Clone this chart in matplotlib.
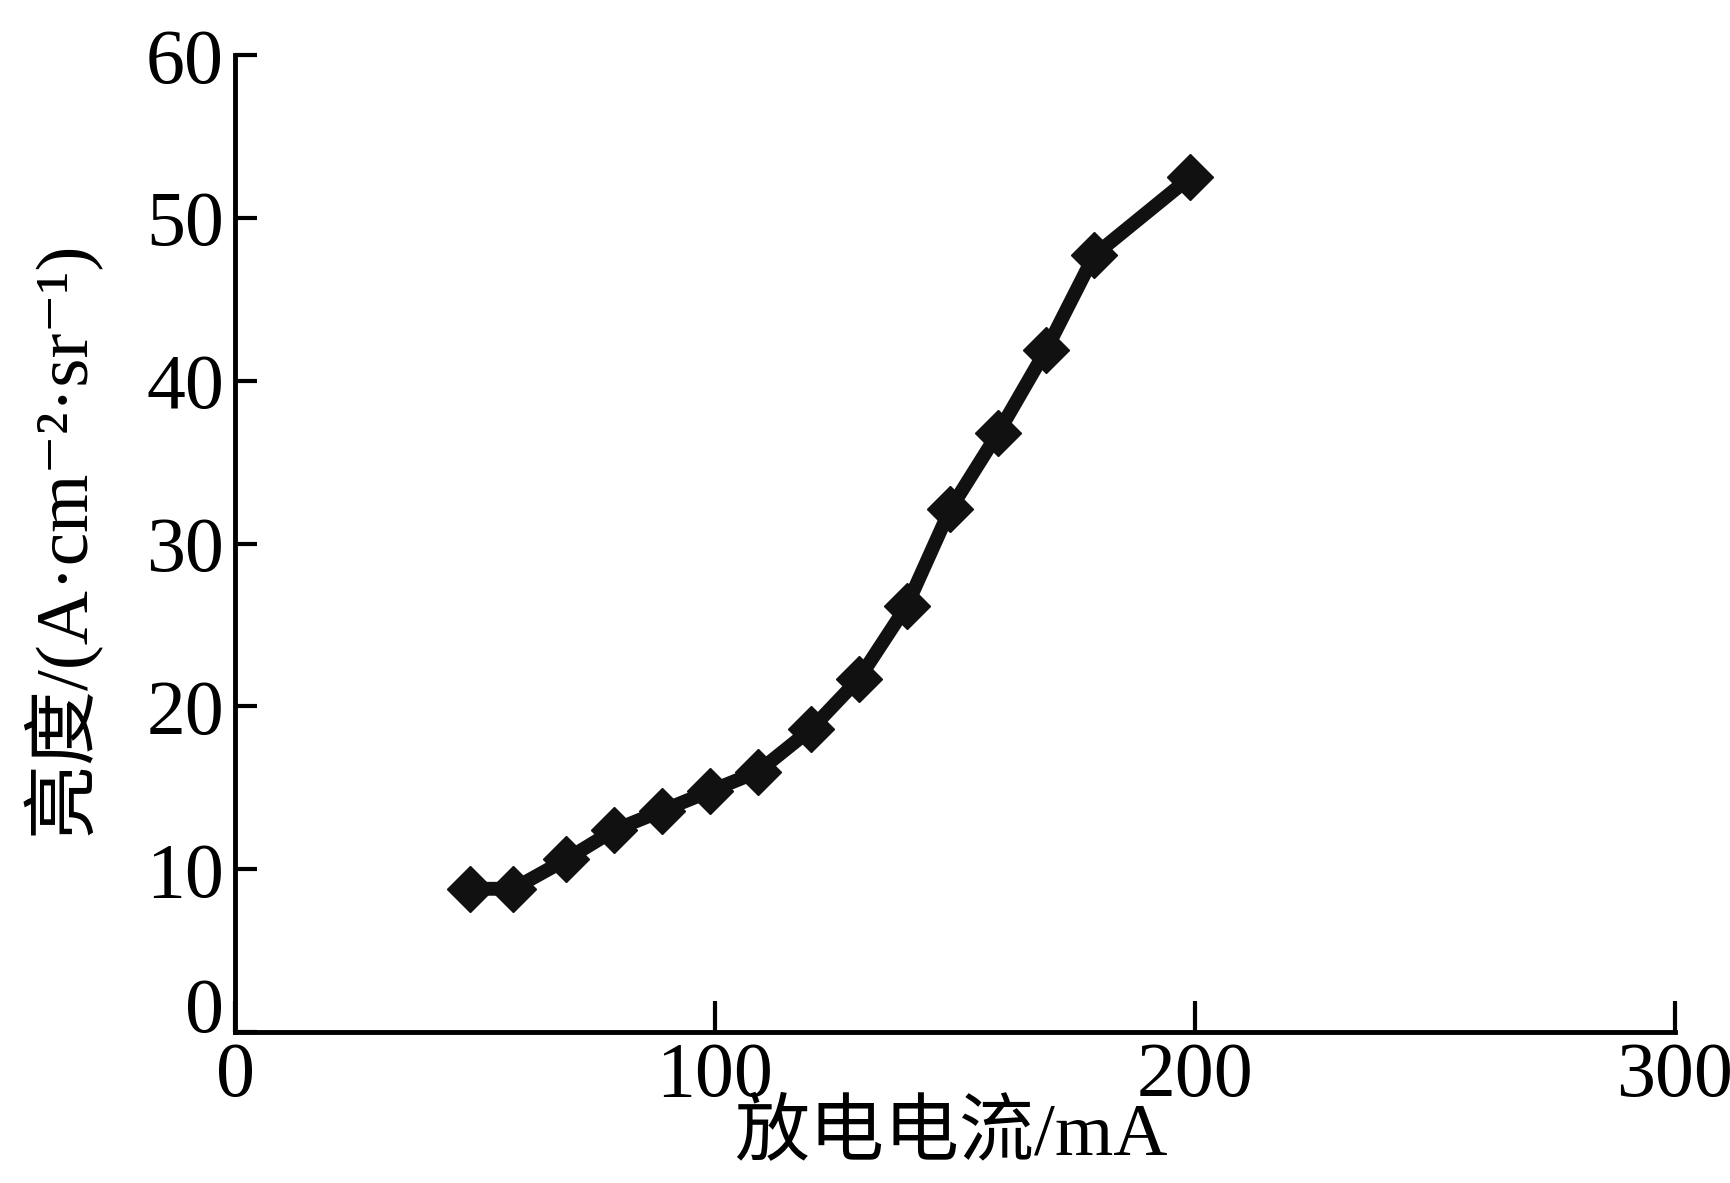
import matplotlib
matplotlib.use("Agg")
import matplotlib.pyplot as plt
from matplotlib.ticker import FixedLocator

plt.rcParams['font.family'] = ['Liberation Serif', 'Noto Sans CJK SC', 'DejaVu Serif']

current = [49, 58, 69, 79, 89, 99, 109, 120, 130, 140, 149, 159, 169, 179, 199]
brightness = [8.8, 8.8, 10.6, 12.4, 13.6, 14.8, 16.0, 18.6, 21.7, 26.2, 32.1, 36.8, 41.9, 47.7, 52.5]
xticks = [0, 100, 200, 300]
yticks = [0, 10, 20, 30, 40, 50, 60]
xlabel = "放电电流/mA"
ylabel = "亮度/(A·cm⁻²·sr⁻¹)"

fig = plt.figure(figsize=(17.31, 11.83), dpi=100)
ax = fig.add_axes([0.1358, 0.1276, 0.8317, 0.8257])

ax.plot(current, brightness, color='#111111', lw=10, marker='D', ms=23,
        markerfacecolor='#111111', markeredgecolor='#111111', solid_joinstyle='round')

ax.set_xlim(0, 300)
ax.set_ylim(0, 60)
ax.xaxis.set_major_locator(FixedLocator(xticks))
ax.yaxis.set_major_locator(FixedLocator(yticks))
ax.set_xticklabels([str(v) for v in xticks])
ax.set_yticklabels([str(v) for v in yticks])

for s in ['top', 'right']:
    ax.spines[s].set_visible(False)
for s in ['left', 'bottom']:
    ax.spines[s].set_linewidth(3.5)
    ax.spines[s].set_color('black')

ax.tick_params(axis='x', direction='in', length=22, width=3, labelsize=56, pad=7)
ax.tick_params(axis='y', direction='in', length=16, width=3, labelsize=56, pad=8)

# y tick label "0" sits above its tick
for lbl in ax.get_yticklabels():
    if lbl.get_text() == '0':
        lbl.set_verticalalignment('baseline')

ax.set_xlabel(xlabel, fontsize=54)
ax.set_ylabel(ylabel, fontsize=54)
ax.xaxis.set_label_coords(0.497, -0.072)
ax.yaxis.set_label_coords(-0.094, 0.506)

fig.savefig("out.png", dpi=100)
